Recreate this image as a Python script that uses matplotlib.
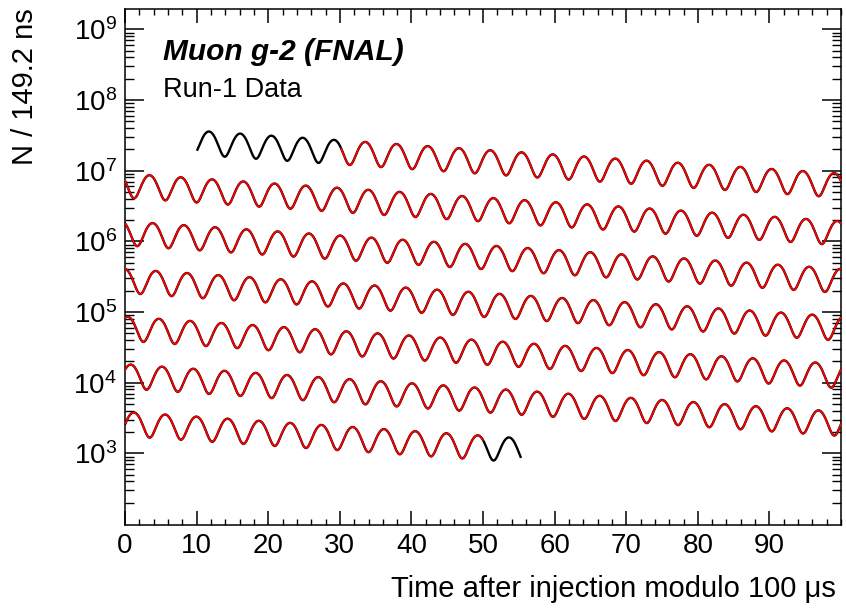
import numpy as np
import matplotlib
matplotlib.use('Agg')
import matplotlib.pyplot as plt
from matplotlib.ticker import LogLocator, MultipleLocator, NullFormatter

# fit parameters (N(t) = N0 exp(-t/tau) (1 + A cos(w t + phi)))
N0 = 3.12e7          # counts per bin at t=0
tau = 64.4           # dilated lifetime, us
asym = 0.375         # wiggle amplitude
period = 4.3668      # g-2 period, us
t_crest = 11.72      # time of the first crest, us

# ranges (us)
bin_width = 0.1492
data_start, data_end = 10.1, 655.3
fit_start, fit_end = 30.2, 650.0
wrap = 100.0

# axis
xticks = [0, 10, 20, 30, 40, 50, 60, 70, 80, 90]
yticks = [1e3, 1e4, 1e5, 1e6, 1e7, 1e8, 1e9]

plt.rcParams['font.family'] = ['Liberation Sans', 'DejaVu Sans']
plt.rcParams['mathtext.fontset'] = 'custom'
plt.rcParams['mathtext.rm'] = 'Liberation Sans'
plt.rcParams['axes.linewidth'] = 1.1


def wiggle(t):
    w = 2 * np.pi / period
    return N0 * np.exp(-t / tau) * (1 + asym * np.cos(w * (t - t_crest)))


t_data = np.arange(data_start, data_end, bin_width)
t_fit = np.arange(fit_start, fit_end, bin_width / 2)

fig = plt.figure(figsize=(8.46, 6.16), dpi=100)
ax = fig.add_axes([0.1479, 0.1477, 0.8462, 0.8377])

nrow = int(np.ceil(data_end / wrap))
for k in range(nrow):
    lo, hi = k * wrap, (k + 1) * wrap
    m = (t_data >= lo) & (t_data <= hi + bin_width)
    ax.plot(t_data[m] - lo, wiggle(t_data[m]), color='black', lw=1.7, zorder=2)
    mf = (t_fit >= lo) & (t_fit <= hi + bin_width)
    if mf.any():
        ax.plot(t_fit[mf] - lo, wiggle(t_fit[mf]), color='#ff0000', lw=1.25, zorder=3)

ax.set_yscale('log')
ax.set_xlim(0, 100)
ax.set_ylim(10 ** 1.985, 10 ** 9.287)

ax.set_xticks(xticks)
ax.set_xticklabels([str(v) for v in xticks])
ax.xaxis.set_minor_locator(MultipleLocator(2))
ax.set_yticks(yticks)
ax.set_yticklabels([r'$\mathdefault{10^{%d}}$' % int(np.log10(v)) for v in yticks])
ax.yaxis.set_minor_locator(LogLocator(base=10, subs=np.arange(2, 10), numticks=20))
ax.yaxis.set_minor_formatter(NullFormatter())

ax.tick_params(axis='both', which='both', direction='in', top=True, right=True, labelsize=20)
ax.tick_params(axis='x', which='major', length=10, width=1.1, pad=6)
ax.tick_params(axis='x', which='minor', length=4.3, width=1.0)
ax.tick_params(axis='y', which='major', length=13.5, width=1.1, pad=6)
ax.tick_params(axis='y', which='minor', length=6.5, width=1.0)

ax.set_xlabel('Time after injection modulo 100 \u03bcs', fontsize=21, ha='right', va='top')
ax.xaxis.set_label_coords(0.993, -0.097)
fig.text(25 / 846, 1 - 8 / 616, 'N / 149.2 ns', rotation=90, fontsize=21, ha='center', va='top')

ax.text(0.053, 0.901, 'Muon g-2 (FNAL)', transform=ax.transAxes, fontsize=21.5,
        fontweight='bold', fontstyle='italic', va='baseline', ha='left')
ax.text(0.053, 0.830, 'Run-1 Data', transform=ax.transAxes, fontsize=19.5,
        va='baseline', ha='left')

plt.savefig('out.png', dpi=100)
